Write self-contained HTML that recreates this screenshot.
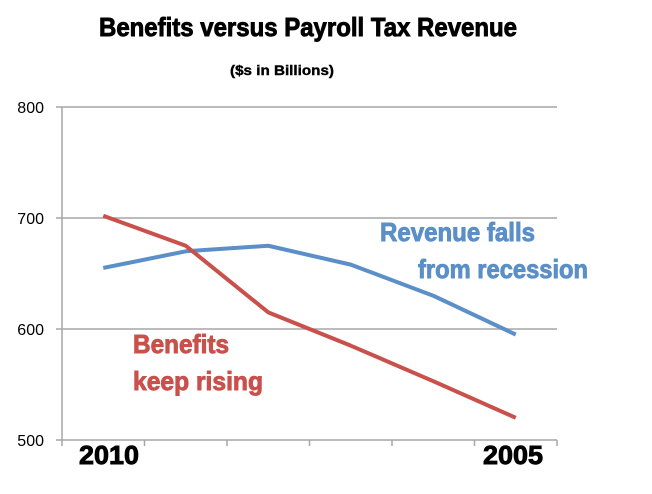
<!DOCTYPE html>
<html><head><meta charset="utf-8"><style>
body{margin:0;background:#fff;}
svg{display:block;}
.t{font-family:"Liberation Sans Narrow","Liberation Sans",sans-serif;font-weight:bold;stroke-width:0.9;}
.ax{font-family:"Liberation Sans",sans-serif;font-size:16px;fill:#000;}
</style></head><body>
<svg id="chart" width="652" height="494">
<text class="t" x="308" y="36" font-size="26" text-anchor="middle" stroke="#000" textLength="418" lengthAdjust="spacingAndGlyphs">Benefits versus Payroll Tax Revenue</text>
<text class="t" x="282" y="75" font-size="14" text-anchor="middle" stroke="#000" style="stroke-width:0.4" textLength="104" lengthAdjust="spacingAndGlyphs">($s in Billions)</text>
<g id="grid"></g>
<g id="series"></g>
<text class="t" x="380" y="241" font-size="26" fill="#5b8fc7" stroke="#5b8fc7" textLength="155" lengthAdjust="spacingAndGlyphs">Revenue falls</text>
<text class="t" x="418" y="278" font-size="26" fill="#5b8fc7" stroke="#5b8fc7" textLength="170" lengthAdjust="spacingAndGlyphs">from recession</text>
<text class="t" x="133" y="353" font-size="26" fill="#c9504b" stroke="#c9504b" textLength="96" lengthAdjust="spacingAndGlyphs">Benefits</text>
<text class="t" x="133" y="390" font-size="26" fill="#c9504b" stroke="#c9504b" textLength="130" lengthAdjust="spacingAndGlyphs">keep rising</text>
<text class="t" x="79" y="464" font-size="26" fill="#000" stroke="#000" textLength="60" lengthAdjust="spacingAndGlyphs">2010</text>
<text class="t" x="483" y="464" font-size="26" fill="#000" stroke="#000" textLength="60" lengthAdjust="spacingAndGlyphs">2005</text>
</svg>
<script>
const categories=["2010","2009","2008","2007","2006","2005"];
const benefits=[702,675,615,585,553,520];
const revenue=[655,670,675,658,630,595];
const yTicks=[500,600,700,800];
const X0=62,X1=557,Y0=440,Y1=107,YMIN=500,YMAX=800;
const NS="http://www.w3.org/2000/svg";
function y(v){return Y0-(v-YMIN)/(YMAX-YMIN)*(Y0-Y1);}
function x(i){const w=(X1-X0)/categories.length;return X0+w*(i+0.5);}
function mk(t,a,p){const e=document.createElementNS(NS,t);for(const k in a)e.setAttribute(k,a[k]);p.appendChild(e);return e;}
const g=document.getElementById('grid');
yTicks.forEach(v=>{
 const l=mk('line',{x1:X0-6,x2:X1,y1:y(v),y2:y(v),stroke:'#a6a6a6','stroke-width':1.5},g);
 
 
 const t=mk('text',{x:X0-18,y:y(v)+6,'text-anchor':'end',class:'ax'},g);
 t.textContent=v;
 
 
});
const ya=mk('line',{x1:X0,x2:X0,y1:Y1,y2:Y0,stroke:'#a6a6a6','stroke-width':1.5},g);


for(let i=0;i<=categories.length;i++){
 const xx=X0+(X1-X0)/categories.length*i;
 const tk=mk('line',{x1:xx,x2:xx,y1:Y0,y2:Y0+6,stroke:'#a6a6a6','stroke-width':1.5},g);
 
 
}
const s=document.getElementById('series');
function line(data,color,name){
 const p=mk('polyline',{points:data.map((v,i)=>x(i)+','+y(v)).join(' '),fill:'none',stroke:color,'stroke-width':4,'stroke-linejoin':'round'},s);
 
 
}
line(revenue,'#5b8fc7','revenue-line');
line(benefits,'#c9504b','benefits-line');
</script>
</body></html>
